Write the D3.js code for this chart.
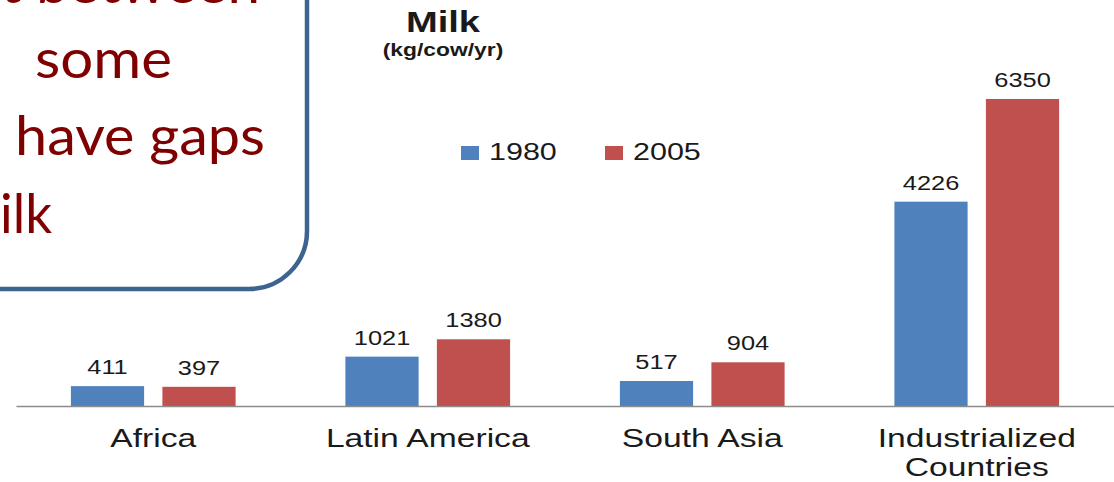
<!DOCTYPE html>
<html>
<head>
<meta charset="utf-8">
<script src="https://cdn.jsdelivr.net/npm/d3@7"></script>
<style>
  html, body { margin: 0; padding: 0; background: #fff; }
  svg { display: block; }
</style>
</head>
<body>
<div id="chart"></div>
<script>
// Data
const regions = ["Africa", "Latin America", "South Asia", "Industrialized Countries"];
const regionLines = [["Africa"], ["Latin America"], ["South Asia"], ["Industrialized", "Countries"]];
const years = ["1980", "2005"];
const milk1980 = [411, 1021, 517, 4226];
const milk2005 = [397, 1380, 904, 6350];
const yearColors = ["#4f81bd", "#c0504d"];
const calloutLines = ["t between", "some", "have gaps", "ilk"];

const width = 1114, height = 482;
const baseY = 406;
const stretch = 1.27; // text in the picture is wider than normal Arial

const svg = d3.select("#chart")
    .append("svg")
    .attr("width", width)
    .attr("height", height);

// helper: horizontally stretched text
function wideText(g, x, y, txt, size, weight) {
    return g.append("text")
        .attr("transform", `translate(${x},${y}) scale(${stretch},1)`)
        .attr("text-anchor", "middle")
        .style("font-family", "'Liberation Sans', Arial, sans-serif")
        .style("font-size", size + "px")
        .style("font-weight", weight || "normal")
        .style("fill", "#1a1a1a")
        .text(txt);
}

// Scales
const x0 = d3.scaleBand()
    .domain(regions)
    .range([16, width])
    .paddingInner(0)
    .paddingOuter(0);

const x1 = d3.scaleBand()
    .domain(years)
    .range([0, x0.bandwidth()])
    .paddingInner(0.2)
    .paddingOuter(0.6);

const y = d3.scaleLinear()
    .domain([0, 7000])
    .range([baseY, baseY - 7000 * 0.04835]);

const color = d3.scaleOrdinal().domain(years).range(yearColors);

// Bars
const rows = regions.map((r, i) => ({ region: r, values: [
    { year: "1980", value: milk1980[i] },
    { year: "2005", value: milk2005[i] }
] }));

const groups = svg.selectAll(".grp")
    .data(rows)
    .enter()
    .append("g")
    .attr("class", "grp")
    .attr("transform", d => `translate(${x0(d.region)},0)`);

groups.selectAll("rect")
    .data(d => d.values)
    .enter()
    .append("rect")
    .attr("x", d => x1(d.year))
    .attr("y", d => y(d.value))
    .attr("width", x1.bandwidth())
    .attr("height", d => baseY - y(d.value))
    .attr("fill", d => color(d.year));

groups.each(function(d) {
    const g = d3.select(this);
    d.values.forEach(v => {
        wideText(g, x1(v.year) + x1.bandwidth() / 2, y(v.value) - 12, v.value, 20);
    });
});

// Axis baseline
const axis = svg.append("g")
    .attr("transform", `translate(0,${baseY})`)
    .call(d3.axisBottom(x0).tickSize(0).tickFormat(""));
axis.select(".domain").attr("stroke", "#8c8c8c").attr("stroke-width", 1.5);

// Category labels (two lines for the last one)
regions.forEach((r, i) => {
    regionLines[i].forEach((line, j) => {
        wideText(svg, x0(r) + x0.bandwidth() / 2, 447 + j * 29, line, 26.5);
    });
});

// Title
wideText(svg, 443, 32, "Milk", 30, "bold");
wideText(svg, 443, 56, "(kg/cow/yr)", 18, "bold");

// Legend
const legend = svg.append("g").attr("class", "legend");
const legendX = [461, 605];
years.forEach((yr, i) => {
    legend.append("rect")
        .attr("x", legendX[i])
        .attr("y", 146)
        .attr("width", 18)
        .attr("height", 14)
        .attr("fill", color(yr));
    legend.append("text")
        .attr("transform", `translate(${legendX[i] + 28},160) scale(${stretch},1)`)
        .style("font-family", "'Liberation Sans', Arial, sans-serif")
        .style("font-size", "24px")
        .style("fill", "#1a1a1a")
        .text(yr);
});

// Callout box (top left, partly off the page)
const callout = svg.append("g").attr("class", "callout");
callout.append("rect")
    .attr("x", -80)
    .attr("y", -80)
    .attr("width", 387)
    .attr("height", 369)
    .attr("rx", 58)
    .attr("ry", 58)
    .attr("fill", "#fff")
    .attr("stroke", "#3d6391")
    .attr("stroke-width", 4.5);

const calloutPos = [[0, 3, 260], [35, 78, 137], [15, 155, 250], [0, 233, 52]];
calloutLines.forEach((t, i) => {
    callout.append("text")
        .attr("x", calloutPos[i][0])
        .attr("y", calloutPos[i][1])
        .attr("textLength", calloutPos[i][2])
        .attr("lengthAdjust", "spacingAndGlyphs")
        .style("font-family", "Lato, 'Open Sans', sans-serif")
        .style("font-size", "54px")
        .style("fill", "#7f0000")
        .text(t);
});
</script>
</body>
</html>
